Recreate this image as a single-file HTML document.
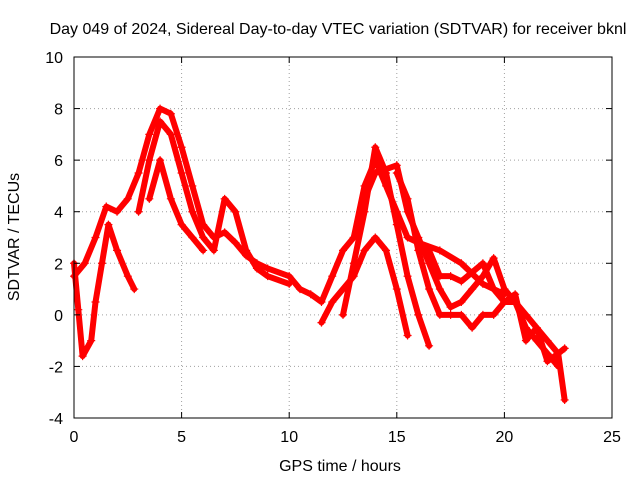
<!DOCTYPE html>
<html><head><meta charset="utf-8"><style>
body{margin:0;background:#fff;}
svg text{font-family:"Liberation Sans",sans-serif;font-size:16px;fill:#000;}
</style></head><body>
<svg id="chart" width="640" height="480" viewBox="0 0 640 480">
<rect width="640" height="480" fill="#fff"/>
<g id="grid"></g><g id="marks"></g><g id="axes"></g>
</svg>
<script>
const xTicks=[0,5,10,15,20,25];
const yTicks=[-4,-2,0,2,4,6,8,10];
const trackA=[[0,1.5],[0.5,2],[1,3],[1.5,4.2],[2,4],[2.5,4.5],[3,5.5],[3.5,7],[4,8],[4.5,7.8],[5,6.5],[5.5,5],[6,3.5],[6.5,3],[7,3.2],[7.5,2.8],[8,2.3],[8.5,2],[9,1.8],[10,1.5],[10.5,1],[11,0.8],[11.5,0.5],[12,1.5],[12.5,2.5],[13,3],[13.5,5],[14,6],[14.5,5],[15,4],[15.5,3],[16,2.8],[16.5,2.5],[17,1.5],[17.5,1.5],[18,1.3],[19,2],[19.5,1],[20,0.5],[20.5,0.5],[21,0],[21.5,-0.5],[22,-1],[22.5,-1.5],[22.8,-3.3]];
const trackB=[[0,2],[0.2,0.2],[0.4,-1.6],[0.8,-1],[1,0.5],[1.3,2],[1.6,3.5],[2,2.5],[2.5,1.5],[2.8,1]];
const trackC=[[3,4],[3.5,6],[4,7.5],[4.5,7],[5,5.5],[5.5,4],[6,3],[6.5,2.5],[7,4.5],[7.5,4],[8,2.5],[8.5,1.8],[9,1.5],[10,1.2]];
const trackD=[[3.5,4.5],[4,6],[4.5,4.5],[5,3.5],[5.5,3],[6,2.5]];
const trackE=[[12.5,0],[13,2],[13.5,4],[14,6.5],[14.5,5.5],[15,3.5],[15.5,1.5],[16,0],[16.5,-1.2]];
const trackF=[[11.5,-0.3],[12,0.5],[13,1.5],[13.5,2.5],[14,3],[14.5,2.5],[15,1],[15.5,-0.8]];
const trackG=[[13,3],[13.5,4.5],[14,5.5],[15,5.8],[15.5,4],[16,3],[16.5,2],[17,1],[17.5,0.3],[18,0.5],[18.5,1],[19,1.5],[19.5,2.2],[20,1],[20.5,0.5],[21,-0.5],[21.5,-1],[22,-1.5],[22.5,-2]];
const trackH=[[15,5.5],[15.5,4.5],[16,2.5],[16.5,1],[17,0],[17.5,0],[18,0],[18.5,-0.5],[19,0],[19.5,0],[20,0.5],[20.5,0.8],[21,-1],[21.5,-0.5],[22,-1.8],[22.5,-1.5],[22.8,-1.3]];
const trackI=[[16,2.8],[17,2.5],[18,2],[19,1.2],[20,0.8]];
const tracks=[trackA,trackB,trackC,trackD,trackE,trackF,trackG,trackH,trackI];
const L=74,R=612,T=57,B=418;
const sx=v=>L+(v-0)/(25-0)*(R-L);
const sy=v=>B-(v+4)/(14)*(B-T);
const NS="http://www.w3.org/2000/svg";
function mk(tag,attrs,parent,txt){const e=document.createElementNS(NS,tag);for(const k in attrs)e.setAttribute(k,attrs[k]);if(txt!==undefined)e.textContent=txt;parent.appendChild(e);return e;}
const grid=document.getElementById('grid'),marks=document.getElementById('marks'),axes=document.getElementById('axes');
xTicks.forEach(t=>{const x=sx(t);
 if(t>0&&t<25){const g=mk('line',{x1:x,x2:x,y1:T,y2:B,stroke:'#a0a0a0','stroke-dasharray':'1,3'},grid);}
 mk('line',{x1:x,x2:x,y1:B,y2:B-6,stroke:'#000'},axes);mk('line',{x1:x,x2:x,y1:T,y2:T+6,stroke:'#000'},axes);
 const l=mk('text',{x:x,y:B+24,'text-anchor':'middle'},axes,String(t));});
yTicks.forEach(t=>{const y=sy(t);
 if(t>-4&&t<10){const g=mk('line',{x1:L,x2:R,y1:y,y2:y,stroke:'#a0a0a0','stroke-dasharray':'1,3'},grid);}
 mk('line',{x1:L,x2:L+6,y1:y,y2:y,stroke:'#000'},axes);mk('line',{x1:R,x2:R-6,y1:y,y2:y,stroke:'#000'},axes);
 const l=mk('text',{x:L-11,y:y+6,'text-anchor':'end'},axes,String(t));});
const fr=mk('rect',{x:L,y:T,width:R-L,height:B-T,fill:'none',stroke:'#000'},axes);

tracks.forEach((tr,i)=>{
 const p=mk('polyline',{points:tr.map(d=>sx(d[0])+','+sy(d[1])).join(' '),fill:'none',stroke:'#ff0000','stroke-width':6,'stroke-linejoin':'round','stroke-linecap':'round'},marks);
 
 
 tr.forEach(d=>{const x=sx(d[0]),y=sy(d[1]);
  const m=mk('path',{d:`M${x-4},${y}h8M${x},${y-4}v8`,stroke:'#ff0000','stroke-width':1.2},marks);
  
  });
});
const t1=mk('text',{x:338,y:34,'text-anchor':'middle'},axes,'Day 049 of 2024, Sidereal Day-to-day VTEC variation (SDTVAR) for receiver bknl');

const t2=mk('text',{x:340,y:471,'text-anchor':'middle'},axes,'GPS time / hours');

const t3=mk('text',{x:19,y:237,'text-anchor':'middle',transform:'rotate(-90 19 237)'},axes,'SDTVAR / TECUs');

</script>
</body></html>
